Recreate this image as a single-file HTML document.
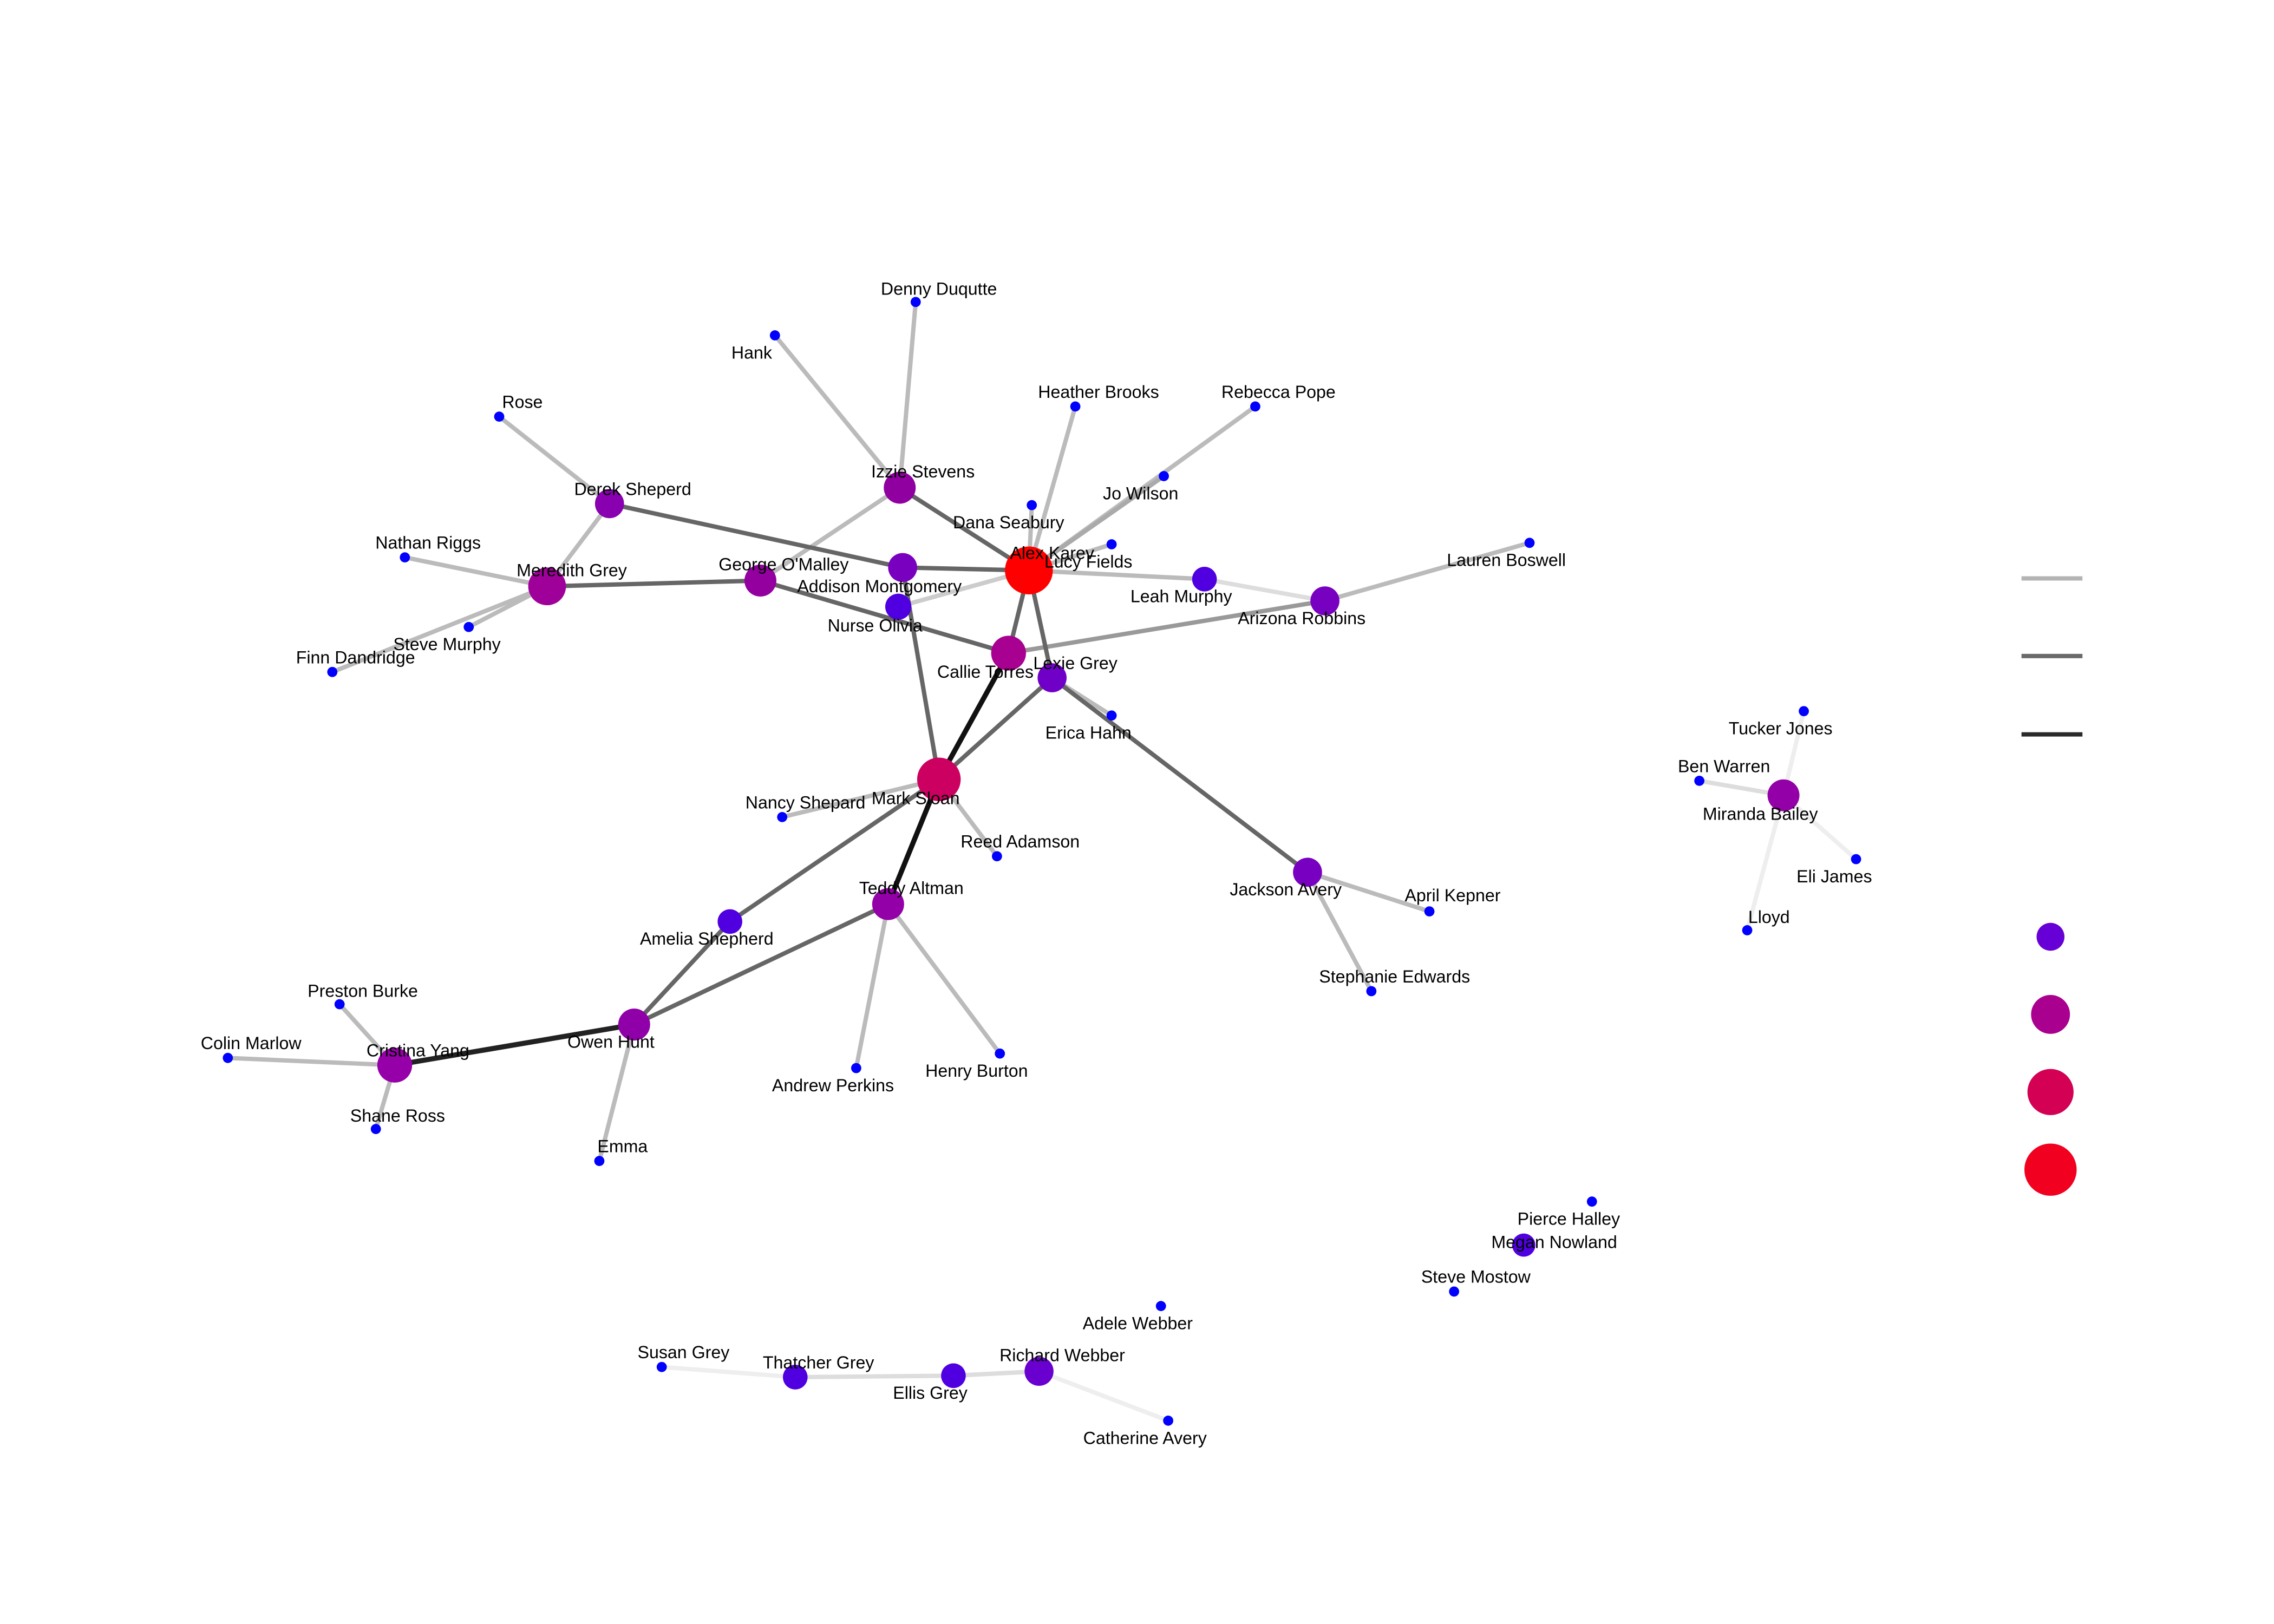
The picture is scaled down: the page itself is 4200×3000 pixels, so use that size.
<!DOCTYPE html>
<html><head><meta charset="utf-8"><style>html,body{margin:0;padding:0;background:#fff}svg{display:block}</style></head><body>
<svg width="4200" height="3000" viewBox="0 0 1567 1119" xmlns="http://www.w3.org/2000/svg">
<rect width="1567" height="1119" fill="#fff"/>
<g stroke-linecap="butt" fill="none">
<g stroke="#bbbbbb" stroke-width="3">
<line x1="620" y1="336" x2="534" y2="231"/><line x1="620" y1="336" x2="631" y2="208"/><line x1="620" y1="336" x2="524" y2="400"/>
<line x1="709" y1="393" x2="741" y2="280"/><line x1="709" y1="393" x2="865" y2="280"/><line x1="709" y1="393" x2="711" y2="348"/>
<line x1="709" y1="393" x2="766" y2="375"/><line x1="709" y1="393" x2="830" y2="399"/>
<line x1="913" y1="414" x2="1054" y2="374"/><line x1="420" y1="347" x2="344" y2="287"/><line x1="420" y1="347" x2="377" y2="404"/>
<line x1="377" y1="404" x2="279" y2="384"/><line x1="377" y1="404" x2="323" y2="432"/><line x1="377" y1="404" x2="229" y2="463"/>
<line x1="725" y1="467" x2="766" y2="493"/><line x1="647" y1="537" x2="539" y2="563"/><line x1="647" y1="537" x2="687" y2="590"/>
<line x1="612" y1="623" x2="590" y2="736"/><line x1="612" y1="623" x2="689" y2="726"/><line x1="437" y1="706" x2="413" y2="800"/>
<line x1="272" y1="734" x2="234" y2="692"/><line x1="272" y1="734" x2="157" y2="729"/><line x1="272" y1="734" x2="259" y2="778"/>
<line x1="901" y1="601" x2="985" y2="628"/><line x1="901" y1="601" x2="945" y2="683"/>
</g>
<line x1="709" y1="393" x2="802" y2="328" stroke="#aaaaaa" stroke-width="3"/>
<line x1="709" y1="393" x2="619" y2="418" stroke="#cccccc" stroke-width="3"/>
<line x1="830" y1="399" x2="913" y2="414" stroke="#dddddd" stroke-width="3"/>
<line x1="913" y1="414" x2="695" y2="450" stroke="#999999" stroke-width="3"/>
<g stroke="#eeeeee" stroke-width="3">
<line x1="1229" y1="548" x2="1243" y2="490"/><line x1="1229" y1="548" x2="1279" y2="592"/><line x1="1229" y1="548" x2="1204" y2="641"/>
<line x1="456" y1="942" x2="548" y2="949"/><line x1="716" y1="945" x2="805" y2="979"/>
</g>
<g stroke="#dddddd" stroke-width="3">
<line x1="1229" y1="548" x2="1171" y2="538"/><line x1="548" y1="949" x2="657" y2="948"/><line x1="657" y1="948" x2="716" y2="945"/>
</g>
<g stroke="#666666" stroke-width="3">
<line x1="620" y1="336" x2="709" y2="393"/><line x1="709" y1="393" x2="622" y2="391"/><line x1="709" y1="393" x2="695" y2="450"/>
<line x1="709" y1="393" x2="725" y2="467"/><line x1="420" y1="347" x2="622" y2="391"/><line x1="377" y1="404" x2="524" y2="400"/>
<line x1="524" y1="400" x2="695" y2="450"/><line x1="622" y1="391" x2="647" y2="537"/><line x1="725" y1="467" x2="647" y2="537"/>
<line x1="725" y1="467" x2="901" y2="601"/><line x1="647" y1="537" x2="503" y2="635"/><line x1="503" y1="635" x2="437" y2="706"/>
<line x1="612" y1="623" x2="437" y2="706"/>
</g>
<g stroke="#111111" stroke-width="3.5">
<line x1="695" y1="450" x2="647" y2="537"/><line x1="647" y1="537" x2="612" y2="623"/>
</g>
<line x1="437" y1="706" x2="272" y2="734" stroke="#222" stroke-width="3.5"/>
</g>
<g fill="#0000ff">
<circle cx="631" cy="208" r="3.5"/><circle cx="534" cy="231" r="3.5"/><circle cx="741" cy="280" r="3.5"/><circle cx="865" cy="280" r="3.5"/>
<circle cx="344" cy="287" r="3.5"/><circle cx="711" cy="348" r="3.5"/><circle cx="802" cy="328" r="3.5"/><circle cx="766" cy="375" r="3.5"/>
<circle cx="1054" cy="374" r="3.5"/><circle cx="279" cy="384" r="3.5"/><circle cx="323" cy="432" r="3.5"/><circle cx="229" cy="463" r="3.5"/>
<circle cx="766" cy="493" r="3.5"/><circle cx="539" cy="563" r="3.5"/><circle cx="687" cy="590" r="3.5"/><circle cx="985" cy="628" r="3.5"/>
<circle cx="945" cy="683" r="3.5"/><circle cx="234" cy="692" r="3.5"/><circle cx="157" cy="729" r="3.5"/><circle cx="259" cy="778" r="3.5"/>
<circle cx="413" cy="800" r="3.5"/><circle cx="590" cy="736" r="3.5"/><circle cx="689" cy="726" r="3.5"/><circle cx="1243" cy="490" r="3.5"/>
<circle cx="1171" cy="538" r="3.5"/><circle cx="1279" cy="592" r="3.5"/><circle cx="1204" cy="641" r="3.5"/><circle cx="1097" cy="828" r="3.5"/>
<circle cx="1002" cy="890" r="3.5"/><circle cx="800" cy="900" r="3.5"/><circle cx="456" cy="942" r="3.5"/><circle cx="805" cy="979" r="3.5"/>
</g>
<circle cx="709" cy="393" r="16.5" fill="#ff0000"/>
<circle cx="620" cy="336" r="11" fill="#9000a0"/>
<circle cx="524" cy="400" r="11" fill="#9400a0"/>
<circle cx="622" cy="391" r="10" fill="#7a00c0"/>
<circle cx="619" cy="418" r="9" fill="#5000e0"/>
<circle cx="695" cy="450" r="12" fill="#a80090"/>
<circle cx="725" cy="467" r="10" fill="#7000c8"/>
<circle cx="647" cy="537" r="15" fill="#cc0060"/>
<circle cx="420" cy="347" r="10" fill="#8800b0"/>
<circle cx="377" cy="404" r="13" fill="#a0009a"/>
<circle cx="830" cy="399" r="8.5" fill="#5000e0"/>
<circle cx="913" cy="414" r="10" fill="#7800c0"/>
<circle cx="901" cy="601" r="10" fill="#7800c0"/>
<circle cx="612" cy="623" r="11" fill="#9400a8"/>
<circle cx="503" cy="635" r="8.5" fill="#5000e0"/>
<circle cx="437" cy="706" r="11" fill="#9000a8"/>
<circle cx="272" cy="734" r="12" fill="#9600a8"/>
<circle cx="1229" cy="548" r="11" fill="#9400a8"/>
<circle cx="1050" cy="858" r="8" fill="#5000e0"/>
<circle cx="548" cy="949" r="8.5" fill="#5000e0"/>
<circle cx="657" cy="948" r="8.5" fill="#5000e0"/>
<circle cx="716" cy="945" r="10" fill="#6a00d0"/>
<g stroke-width="3">
<line x1="1393" y1="398.5" x2="1435" y2="398.5" stroke="#b4b4b4"/>
<line x1="1393" y1="452" x2="1435" y2="452" stroke="#6a6a6a"/>
<line x1="1393" y1="506" x2="1435" y2="506" stroke="#2a2a2a"/>
</g>
<circle cx="1413" cy="645.5" r="9.6" fill="#6600d6"/>
<circle cx="1413" cy="699" r="13.4" fill="#a90090"/>
<circle cx="1413" cy="752.5" r="15.9" fill="#d30053"/>
<circle cx="1413" cy="806" r="18" fill="#f10020"/>
<g font-family="Liberation Sans, Arial, sans-serif" font-size="12" fill="#000" text-anchor="middle">
<text x="647" y="203">Denny Duqutte</text><text x="518" y="247">Hank</text><text x="757" y="274">Heather Brooks</text>
<text x="881" y="274">Rebecca Pope</text><text x="360" y="281">Rose</text><text x="636" y="329">Izzie Stevens</text>
<text x="436" y="341">Derek Sheperd</text><text x="695" y="364">Dana Seabury</text><text x="786" y="344">Jo Wilson</text>
<text x="725" y="385">Alex Karev</text><text x="750" y="391">Lucy Fields</text><text x="1038" y="390">Lauren Boswell</text>
<text x="295" y="378">Nathan Riggs</text><text x="394" y="397">Meredith Grey</text><text x="540" y="393">George O'Malley</text>
<text x="606" y="408">Addison Montgomery</text><text x="814" y="415">Leah Murphy</text><text x="603" y="435">Nurse Olivia</text>
<text x="897" y="430">Arizona Robbins</text><text x="308" y="448">Steve Murphy</text><text x="245" y="457">Finn Dandridge</text>
<text x="679" y="467">Callie Torres</text><text x="741" y="461">Lexie Grey</text><text x="750" y="509">Erica Hahn</text>
<text x="1227" y="506">Tucker Jones</text><text x="1188" y="532">Ben Warren</text><text x="1213" y="565">Miranda Bailey</text>
<text x="631" y="554">Mark Sloan</text><text x="555" y="557">Nancy Shepard</text><text x="703" y="584">Reed Adamson</text>
<text x="1264" y="608">Eli James</text><text x="886" y="617">Jackson Avery</text><text x="1001" y="621">April Kepner</text>
<text x="628" y="616">Teddy Altman</text><text x="1219" y="636">Lloyd</text><text x="487" y="651">Amelia Shepherd</text>
<text x="961" y="677">Stephanie Edwards</text><text x="250" y="687">Preston Burke</text><text x="173" y="723">Colin Marlow</text>
<text x="288" y="728">Cristina Yang</text><text x="421" y="722">Owen Hunt</text><text x="673" y="742">Henry Burton</text>
<text x="574" y="752">Andrew Perkins</text><text x="274" y="773">Shane Ross</text><text x="429" y="794">Emma</text>
<text x="1081" y="844">Pierce Halley</text><text x="1071" y="860">Megan Nowland</text><text x="1017" y="884">Steve Mostow</text>
<text x="784" y="916">Adele Webber</text><text x="471" y="936">Susan Grey</text><text x="564" y="943">Thatcher Grey</text>
<text x="732" y="938">Richard Webber</text><text x="641" y="964">Ellis Grey</text><text x="789" y="995">Catherine Avery</text>
</g>
</svg>
</body></html>
